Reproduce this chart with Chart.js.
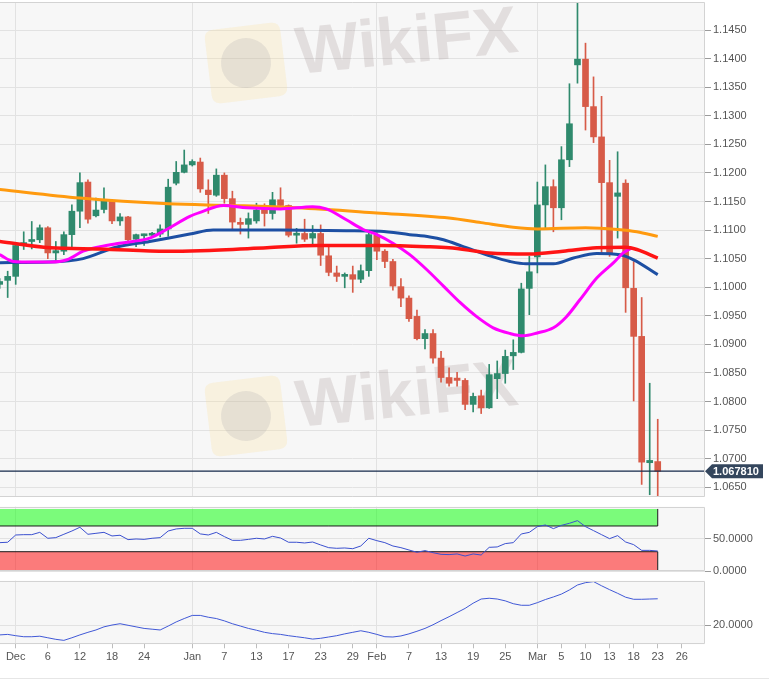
<!DOCTYPE html>
<html><head><meta charset="utf-8">
<script src="https://cdn.jsdelivr.net/npm/chart.js@4.4.1/dist/chart.umd.min.js"></script>
<style>
html,body{margin:0;padding:0;background:#fff;}
#wrap{position:relative;width:774px;height:688px;overflow:hidden;background:#fff;}
canvas{position:absolute;left:0;}
#sep{position:absolute;left:0;top:678px;width:769px;height:0;border-top:1px solid #e6e6e6;}
</style></head><body>
<div id="wrap">
<canvas id="c1" width="774" height="500" style="top:0px"></canvas>
<canvas id="c2" width="774" height="80" style="top:500px"></canvas>
<canvas id="c3" width="774" height="108" style="top:580px"></canvas>
<div id="sep"></div>
</div>
<script>
// ---------- DATA (daily EUR/USD candles, index -2 = 28 Nov ... 80 = 23 Mar) ----------
const firstIdx = -2;
const opens = [1.1005,1.1012,1.1019,1.1073,1.1080,1.1083,1.1104,1.1060,1.1063,1.1092,
1.1133,1.1184,1.1125,1.1136,1.1152,1.1116,1.1123,1.1084,1.1090,1.1091,
1.1093,1.1102,1.1182,1.1201,1.1214,1.1219,1.1170,1.1161,1.1196,1.1155,
1.1113,1.1110,1.1116,1.1136,1.1129,1.1153,1.1143,1.1091,1.1094,1.1086,
1.1094,1.1055,1.1025,1.1019,1.1022,1.1014,1.1029,1.1091,1.1063,1.1045,
1.1001,1.0981,1.0949,1.0910,1.0919,1.0876,1.0842,1.0841,1.0837,1.0795,
1.0810,1.0789,1.0840,1.0849,1.0880,1.0886,1.0998,1.1053,1.1144,1.1176,
1.1139,1.1223,1.1389,1.1399,1.1316,1.1263,1.1183,1.1159,1.1182,1.0998,
1.0914,1.0693,1.0695];
const highs = [1.1015,1.1028,1.1078,1.1097,1.1115,1.1109,1.1106,1.1080,1.1097,1.1144,
1.1200,1.1188,1.1156,1.1174,1.1153,1.1129,1.1124,1.1093,1.1093,1.1096,
1.1109,1.1189,1.1220,1.1240,1.1223,1.1226,1.1188,1.1207,1.1200,1.1168,
1.1121,1.1130,1.1147,1.1146,1.1166,1.1174,1.1144,1.1103,1.1119,1.1108,
1.1109,1.1072,1.1037,1.1025,1.1037,1.1039,1.1095,1.1095,1.1066,1.1049,
1.1015,1.0985,1.0960,1.0926,1.0926,1.0888,1.0859,1.0851,1.0840,1.0815,
1.0820,1.0865,1.0871,1.0890,1.0908,1.1007,1.1054,1.1184,1.1214,1.1188,
1.1246,1.1356,1.1497,1.1427,1.1368,1.1334,1.1222,1.1237,1.1188,1.1045,
1.0982,1.0832,1.0769];
const lows = [1.0998,1.0982,1.1005,1.1066,1.1067,1.1078,1.1050,1.1047,1.1057,1.1071,
1.1104,1.1112,1.1123,1.1130,1.1111,1.1108,1.1080,1.1071,1.1073,1.1088,
1.1088,1.1089,1.1179,1.1200,1.1212,1.1166,1.1129,1.1159,1.1147,1.1102,
1.1093,1.1086,1.1112,1.1107,1.1119,1.1137,1.1088,1.1077,1.1080,1.1074,
1.1038,1.1020,1.1010,1.0999,1.0991,1.1008,1.1019,1.1048,1.1034,1.0995,
1.0966,1.0940,1.0908,1.0892,1.0867,1.0834,1.0827,1.0827,1.0786,1.0782,
1.0779,1.0788,1.0805,1.0832,1.0856,1.0885,1.0952,1.1025,1.1101,1.1097,
1.1118,1.1211,1.1357,1.1275,1.1253,1.1057,1.1054,1.1086,1.0956,1.0801,
1.0655,1.0637,1.0635];
const closes = [1.1010,1.1019,1.1073,1.1078,1.1082,1.1104,1.1060,1.1064,1.1092,1.1133,
1.1183,1.1119,1.1135,1.1152,1.1116,1.1123,1.1083,1.1092,1.1091,1.1093,
1.1102,1.1175,1.1201,1.1214,1.1220,1.1172,1.1162,1.1196,1.1155,1.1114,
1.1110,1.1120,1.1135,1.1129,1.1153,1.1143,1.1091,1.1093,1.1084,1.1094,
1.1056,1.1026,1.1019,1.1021,1.1014,1.1029,1.1092,1.1063,1.1045,1.1002,
1.0981,1.0945,1.0910,1.0919,1.0876,1.0842,1.0832,1.0837,1.0795,1.0809,
1.0789,1.0847,1.0849,1.0879,1.0886,1.0997,1.1027,1.1144,1.1176,1.1139,
1.1223,1.1286,1.1399,1.1316,1.1263,1.1183,1.1057,1.1165,1.0999,1.0914,
1.0694,1.0697,1.0678];

const sma200X = [-2, 8, 19, 27, 35, 45, 54, 58, 62, 65, 71, 75, 77.4, 80];
const sma200Y = [1.1171,1.1156,1.1146,1.1143,1.1139,1.1130,1.1121,1.1113,1.1105,1.1102,1.1104,1.1101,1.1097,1.1089];
const sma100X = [-2, 4.3, 10.5, 18.8, 23, 31.3, 37.5, 45.4, 51.2, 54, 57.4, 59, 64, 68.2, 72.4, 76, 77.4, 80];
const sma100Y = [1.1080,1.1069,1.1067,1.1063,1.1064,1.1069,1.1073,1.1073,1.1071,1.1069,1.1063,1.1060,1.1058,1.1063,1.1069,1.1070,1.1066,1.1051];
const sma50X = [-2, 4.3, 8.4, 12.5, 16.7, 21.7, 24.6, 33, 41.2, 45.4, 49.1, 51.6, 53.3, 55.6, 59.3, 61.6, 63.6, 67, 69.5, 72.4, 75.3, 77, 80];
const sma50Y = [1.1043,1.1044,1.1050,1.1070,1.1080,1.1093,1.1100,1.1100,1.1099,1.1098,1.1092,1.1088,1.1083,1.1072,1.1054,1.1045,1.1041,1.1041,1.1051,1.1059,1.1057,1.1048,1.1022];
const sma20X = [-2, -0.3, 2.2, 4.3, 6.4, 8.4, 10.5, 12.5, 14.6, 16.7, 18.8, 21.7, 23, 25.9, 28.8, 33, 37, 38.7, 41.2, 43.3, 45, 47, 49.1, 51.2, 53.3, 55.4, 57.4, 59.5, 61.6, 63.2, 65, 67, 68.6, 70.3, 72.4, 74.5, 75.7, 76.8];
const sma20Y = [1.1057,1.1045,1.1044,1.1044,1.1048,1.1063,1.1071,1.1076,1.1080,1.1086,1.1101,1.1124,1.1131,1.1143,1.1139,1.1137,1.1141,1.1137,1.1118,1.1101,1.1092,1.1077,1.1057,1.1031,1.1002,1.0973,1.0949,1.0929,1.0919,1.0915,1.0920,1.0929,1.0948,1.0978,1.1016,1.1043,1.1060,1.1069];

const rsiVals = [44.1,44.7,56.0,56.5,56.5,60.1,50.9,51.9,57.1,62.2,
68.0,57.1,58.6,60.1,54.5,55.6,48.8,49.8,49.2,50.9,
51.9,62.2,65.4,66.4,66.4,57.7,56.0,60.1,53.5,47.7,
47.7,49.2,50.9,49.8,53.9,51.3,44.7,44.7,43.6,45.1,
40.5,36.3,35.3,35.8,34.7,38.9,50.9,47.2,44.1,38.9,
36.3,32.7,29.1,31.7,28.5,25.9,25.5,26.5,23.3,26.5,
24.9,36.8,37.4,42.6,44.1,57.6,60.1,69.0,71.6,65.9,
71.0,74.2,78.3,69.0,62.8,56.5,50.3,55.0,45.1,41.0,
32.1,32.1,31.1];
const adxVals = [16.3,16.5,16.0,15.6,15.6,15.8,15.2,14.6,14.2,15.2,
16.3,17.3,18.2,19.4,20.1,20.6,20.0,19.4,18.8,18.5,
18.2,19.7,21.3,22.6,23.8,23.8,23.1,22.6,21.7,20.6,
19.7,18.8,18.1,17.3,16.8,16.5,16.0,15.6,15.2,14.7,
15.0,15.5,16.0,16.7,17.3,17.9,17.3,16.5,15.6,15.5,
15.9,16.7,17.7,18.8,20.2,21.8,23.3,24.9,26.5,28.5,
30.1,30.4,30.1,29.4,28.3,27.7,27.7,28.7,29.9,30.9,
32.0,33.6,35.5,36.4,36.8,35.2,33.7,32.3,30.8,30.0,
30.0,30.1,30.2];

const currentPrice = 1.067810;
const rsiUpper = 70, rsiLower = 30, rsiBandTop = 96.5;
const monthStartIdx = [0, 22, 45, 65];
const xTickIdx = [0,4,8,12,16,22,26,30,34,38,42,45,49,53,57,61,65,68,71,74,77,80,83];
const xTickLabels = ['Dec','6','12','18','24','Jan','7','13','17','23','29','Feb','7','13','19','25','Mar','5','10','13','18','23','26'];
const priceTicks = [1.0650,1.0700,1.0750,1.0800,1.0850,1.0900,1.0950,1.1000,1.1050,1.1100,1.1150,1.1200,1.1250,1.1300,1.1350,1.1400,1.1450];
const rsiTicks = [0, 50];
const adxTicks = [20];

// ---------- STYLE / LAYOUT ----------
const FONT = "'Liberation Sans', Arial, Helvetica, sans-serif";
Chart.defaults.font.family = FONT;
Chart.defaults.font.size = 11;
Chart.defaults.color = '#555';
Chart.defaults.animation = false;
const xMin = -1.956, xMax = 85.89;
const upColor = '#2f8a6d', downColor = '#d75b48';
const gridColor = '#e2e2e2';

const panelPlugin = {
  id: 'panel',
  beforeDraw(chart) {
    const {ctx, chartArea: a} = chart;
    ctx.save(); ctx.fillStyle = '#f7f7f7';
    ctx.fillRect(a.left, a.top, a.right - a.left, a.bottom - a.top); ctx.restore();
  },
  afterDraw(chart) {
    const {ctx, chartArea: a} = chart;
    ctx.save(); ctx.strokeStyle = '#d3d3d3'; ctx.lineWidth = 1;
    ctx.beginPath();
    ctx.moveTo(a.left, Math.round(a.top) + 0.5);
    ctx.lineTo(Math.round(a.right) - 0.5, Math.round(a.top) + 0.5);
    ctx.lineTo(Math.round(a.right) - 0.5, Math.round(a.bottom) - 0.5);
    ctx.lineTo(a.left, Math.round(a.bottom) - 0.5);
    ctx.stroke(); ctx.restore();
  }
};

function rr(ctx, x, y, w, h, r) {
  ctx.beginPath();
  ctx.moveTo(x + r, y); ctx.lineTo(x + w - r, y); ctx.quadraticCurveTo(x + w, y, x + w, y + r);
  ctx.lineTo(x + w, y + h - r); ctx.quadraticCurveTo(x + w, y + h, x + w - r, y + h);
  ctx.lineTo(x + r, y + h); ctx.quadraticCurveTo(x, y + h, x, y + h - r);
  ctx.lineTo(x, y + r); ctx.quadraticCurveTo(x, y, x + r, y); ctx.closePath();
}
const watermarkPlugin = {
  id: 'wm',
  beforeDatasetsDraw(chart) {
    const ctx = chart.ctx;
    [0, 353].forEach(dy => {
      ctx.save();
      ctx.translate(246, 63 + dy); ctx.rotate(-0.12);
      ctx.fillStyle = 'rgba(250,222,150,0.25)';
      rr(ctx, -38, -37, 76, 74, 9); ctx.fill();
      ctx.fillStyle = 'rgba(150,150,160,0.18)';
      ctx.beginPath(); ctx.arc(0, 0, 25, 0, Math.PI * 2); ctx.fill();
      ctx.restore();
      ctx.save();
      ctx.translate(298, 74 + dy); ctx.rotate(-0.1);
      ctx.font = 'bold 67px ' + FONT;
      ctx.fillStyle = 'rgba(150,130,130,0.21)';
      ctx.fillText('WikiFX', 0, 0);
      ctx.restore();
    });
  }
};
const priceLabelPlugin = {
  id: 'priceLabel',
  afterDraw(chart) {
    const y = chart.scales.y.getPixelForValue(currentPrice);
    const x0 = chart.chartArea.right;
    const ctx = chart.ctx;
    ctx.save();
    ctx.fillStyle = '#34465d';
    ctx.beginPath();
    ctx.moveTo(x0, y); ctx.lineTo(x0 + 7, y - 7); ctx.lineTo(x0 + 58, y - 7);
    ctx.lineTo(x0 + 58, y + 7); ctx.lineTo(x0 + 7, y + 7); ctx.closePath(); ctx.fill();
    ctx.fillStyle = '#fff'; ctx.font = 'bold 11px ' + FONT;
    ctx.textBaseline = 'middle'; ctx.textAlign = 'left';
    ctx.fillText(currentPrice.toFixed(6), x0 + 8, y + 0.5);
    ctx.restore();
  }
};

function yAxis(min, max, ticks) {
  return {
    type: 'linear', position: 'right', min, max,
    afterBuildTicks: s => { s.ticks = ticks.map(v => ({value: v})); },
    afterFit: s => { s.width = 69; s.paddingTop = 0; s.paddingBottom = 0; },
    ticks: { callback: v => Number(v).toFixed(4), padding: 2, color: '#555', font: {size: 11} },
    grid: { color: gridColor, tickColor: '#9a9a9a', tickLength: 6, drawTicks: true },
    border: { display: false }
  };
}
function xAxisHidden() {
  return {
    type: 'linear', min: xMin, max: xMax, offset: false,
    afterBuildTicks: s => { s.ticks = monthStartIdx.map(v => ({value: v})); },
    afterFit: s => { s.height = 0; s.paddingLeft = 0; s.paddingRight = 0; },
    ticks: { display: false },
    grid: { color: gridColor, drawTicks: false, offset: false },
    border: { display: false }
  };
}
const common = {
  responsive: false, events: [],
  plugins: { legend: { display: false }, tooltip: { enabled: false } }
};
const pts = (xs, ys) => xs.map((x, i) => ({x, y: ys[i]}));
const lineDs = (label, xs, ys, color, w, order) => ({
  type: 'line', label, data: pts(xs, ys), borderColor: color, borderWidth: w,
  pointRadius: 0, cubicInterpolationMode: 'monotone', fill: false, order
});

// ---------- MAIN PRICE CHART ----------
const candleX = opens.map((_, i) => firstIdx + i);
const candleColors = opens.map((o, i) => closes[i] >= o ? upColor : downColor);
new Chart(document.getElementById('c1'), {
  type: 'bar',
  data: { datasets: [
    { type: 'line', label: 'price', data: [{x: xMin, y: currentPrice}, {x: xMax, y: currentPrice}],
      borderColor: '#15284a', borderWidth: 1.2, pointRadius: 0, order: 0 },
    lineDs('SMA100', sma100X, sma100Y, '#ff1414', 3.5, 1),
    lineDs('SMA20', sma20X, sma20Y, '#ff00ff', 3, 2),
    lineDs('SMA50', sma50X, sma50Y, '#1d4fa3', 3, 3),
    lineDs('SMA200', sma200X, sma200Y, '#ff9a0e', 3, 4),
    { type: 'bar', label: 'body', data: candleX.map((x, i) => ({x, y: [opens[i], closes[i]]})),
      backgroundColor: candleColors, barThickness: 6, minBarLength: 2, grouped: false, order: 5 },
    { type: 'bar', label: 'wick', data: candleX.map((x, i) => ({x, y: [lows[i], highs[i]]})),
      backgroundColor: candleColors, barThickness: 1, grouped: false, order: 6 }
  ]},
  options: Object.assign({}, common, {
    layout: { padding: { top: 2, bottom: 3, left: 0, right: 0 } },
    scales: { x: xAxisHidden(), y: yAxis(1.0633, 1.1499, priceTicks) }
  }),
  plugins: [panelPlugin, watermarkPlugin, priceLabelPlugin]
});

// ---------- RSI PANEL ----------
const lastX = firstIdx + rsiVals.length - 1;
new Chart(document.getElementById('c2'), {
  type: 'line',
  data: { datasets: [
    { label: 'bandTop', data: [{x: xMin, y: rsiBandTop}, {x: lastX, y: rsiBandTop}], borderWidth: 0, pointRadius: 0, fill: false, order: 6 },
    { label: 'upper', data: [{x: xMin, y: rsiUpper}, {x: lastX, y: rsiUpper}], borderColor: '#1a1a1a', borderWidth: 1, pointRadius: 0,
      fill: '-1', backgroundColor: 'rgba(0,255,0,0.5)', order: 5 },
    { label: 'lower', data: [{x: xMin, y: rsiLower}, {x: lastX, y: rsiLower}], borderColor: '#1a1a1a', borderWidth: 1, pointRadius: 0,
      fill: 'origin', backgroundColor: 'rgba(255,0,0,0.5)', order: 4 },
    { label: 'edgeU', data: [{x: lastX, y: rsiUpper}, {x: lastX, y: rsiBandTop}], borderColor: '#1a1a1a', borderWidth: 1, pointRadius: 0, fill: false, order: 3 },
    { label: 'edgeL', data: [{x: lastX, y: 0}, {x: lastX, y: rsiLower}], borderColor: '#1a1a1a', borderWidth: 1, pointRadius: 0, fill: false, order: 3 },
    { label: 'RSI', data: rsiVals.map((v, i) => ({x: firstIdx + i, y: v})), borderColor: '#3b50cf', borderWidth: 1,
      pointRadius: 0, tension: 0, fill: false, order: 0 }
  ]},
  options: Object.assign({}, common, {
    layout: { padding: { top: 6.7, bottom: 9, left: 0, right: 0 } },
    scales: { x: xAxisHidden(), y: yAxis(0, 100, rsiTicks) }
  }),
  plugins: [panelPlugin]
});

// ---------- LOWER INDICATOR PANEL ----------
new Chart(document.getElementById('c3'), {
  type: 'line',
  data: { datasets: [
    { label: 'ADX', data: adxVals.map((v, i) => ({x: firstIdx + i, y: v})), borderColor: '#4058d6', borderWidth: 1,
      pointRadius: 0, tension: 0, fill: false }
  ]},
  options: Object.assign({}, common, {
    layout: { padding: { top: 0.7, bottom: 23.7, left: 0, right: 0 } },
    scales: {
      x: {
        type: 'linear', min: xMin, max: xMax, offset: false,
        afterBuildTicks: s => { s.ticks = xTickIdx.map(v => ({value: v})); },
        afterFit: s => { s.height = 20; s.paddingLeft = 0; s.paddingRight = 0; },
        ticks: { autoSkip: false, maxRotation: 0, minRotation: 0, padding: 2, color: '#555',
                 callback: (v, i) => xTickLabels[i] },
        grid: { color: c => (c.tick && monthStartIdx.includes(c.tick.value)) ? gridColor : 'rgba(0,0,0,0)',
                tickColor: '#bdbdbd', tickLength: 4, drawTicks: true, offset: false },
        border: { display: false }
      },
      y: yAxis(12.69, 37.15, adxTicks)
    }
  }),
  plugins: [panelPlugin]
});
</script>
</body></html>
